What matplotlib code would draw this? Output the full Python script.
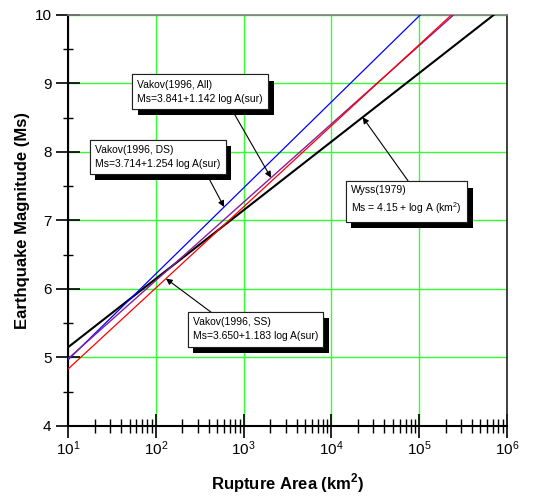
import numpy as np
import matplotlib
matplotlib.use("Agg")
from matplotlib import pyplot as plt
from matplotlib import patheffects
from matplotlib.ticker import LogLocator, MultipleLocator

plt.rcParams['font.family'] = ['Liberation Sans', 'DejaVu Sans']
plt.rcParams['mathtext.fontset'] = 'custom'
plt.rcParams['mathtext.rm'] = 'Liberation Sans'
plt.rcParams['mathtext.bf'] = 'Liberation Sans:bold'

# Ms = a + b * log10(A)
names = ["Wyss", "DS", "All", "SS"]
intercepts = [4.15, 3.714, 3.841, 3.650]
slopes = [1.0, 1.254, 1.142, 1.183]
colors = ["black", "blue", "#8a1c9c", "red"]
widths = [1.5, 0.9, 1.0, 0.9]
area_range = [10, 1e6]

labels = [
    "Wyss(1979)\nMs = 4.15 + log A (km$^{2}$)",
    "Vakov(1996, DS)\nMs=3.714+1.254 log A(sur)",
    "Vakov(1996, All)\nMs=3.841+1.142 log A(sur)",
    "Vakov(1996, SS)\nMs=3.650+1.183 log A(sur)",
]
# where each label box sits (area, Ms)
label_pos = [(71600, 7.29), (104.5, 7.93), (318, 8.88), (1365, 5.41)]
# arrow tail (area, Ms) and arrow head area on the line
arrow_tail = [(74500, 7.58), (373, 7.69), (738, 8.61), (425, 5.66)]
arrow_head_area = [22700, 598, 2050, 130]


def ms_line(a, b, area):
    return a + b * np.log10(area)


fig = plt.figure(figsize=(5.33, 4.97), dpi=100)
ax = fig.add_axes([0.128, 0.143, 0.823, 0.827])

x = np.array(area_range)
for a, b, c, w in zip(intercepts, slopes, colors, widths):
    ax.plot(x, ms_line(a, b, x), color=c, lw=w, zorder=3)

ax.set_xscale("log")
ax.set_xlim(10, 1e6)
ax.set_ylim(4, 10)
ax.yaxis.set_major_locator(MultipleLocator(1))
ax.yaxis.set_minor_locator(MultipleLocator(0.5))
ax.xaxis.set_major_locator(LogLocator(base=10))
ax.xaxis.set_minor_locator(LogLocator(base=10, subs=np.arange(2, 10)))
ax.xaxis.set_minor_formatter(plt.NullFormatter())

ax.grid(True, which="major", color="#33ff33", lw=1.0, zorder=1)
ax.tick_params(which="major", direction="inout", length=17, width=1.2,
               labelsize=11, top=False, right=False)
ax.tick_params(axis="x", which="minor", direction="inout", length=10, width=1.0)
ax.tick_params(axis="y", which="minor", direction="inout", length=7, width=1.0)
ax.tick_params(axis="x", pad=1)

for s in ["left", "bottom"]:
    ax.spines[s].set_linewidth(1.5)
ax.spines["top"].set_color("#808080")
ax.spines["top"].set_linewidth(1.2)
ax.spines["right"].set_color("#202020")
ax.spines["right"].set_linewidth(1.2)

ax.set_xlabel("Rupture Area (km$^{\\mathbf{2}}$)", fontsize=12, fontweight="bold", labelpad=10)
ax.set_ylabel("Earthquake Magnitude (Ms)", fontsize=12, fontweight="bold", labelpad=3)

for i in range(len(names)):
    ha = arrow_head_area[i]
    ax.annotate("", xy=(ha, ms_line(intercepts[i], slopes[i], ha)),
                xytext=arrow_tail[i],
                arrowprops=dict(arrowstyle="-|>", color="black", lw=0.8,
                                mutation_scale=9, shrinkA=0, shrinkB=0),
                zorder=4)
    t = ax.text(label_pos[i][0], label_pos[i][1], labels[i], fontsize=7.5,
                ha="center", va="center", multialignment="left",
                linespacing=1.5, zorder=5,
                bbox=dict(boxstyle="square,pad=0.5", fc="white", ec="#202020", lw=0.8))
    t.get_bbox_patch().set_path_effects([
        patheffects.withSimplePatchShadow(offset=(4, -4.5), shadow_rgbFace="black", alpha=1),
        patheffects.Normal()])

fig.savefig("out.png", dpi=100)
